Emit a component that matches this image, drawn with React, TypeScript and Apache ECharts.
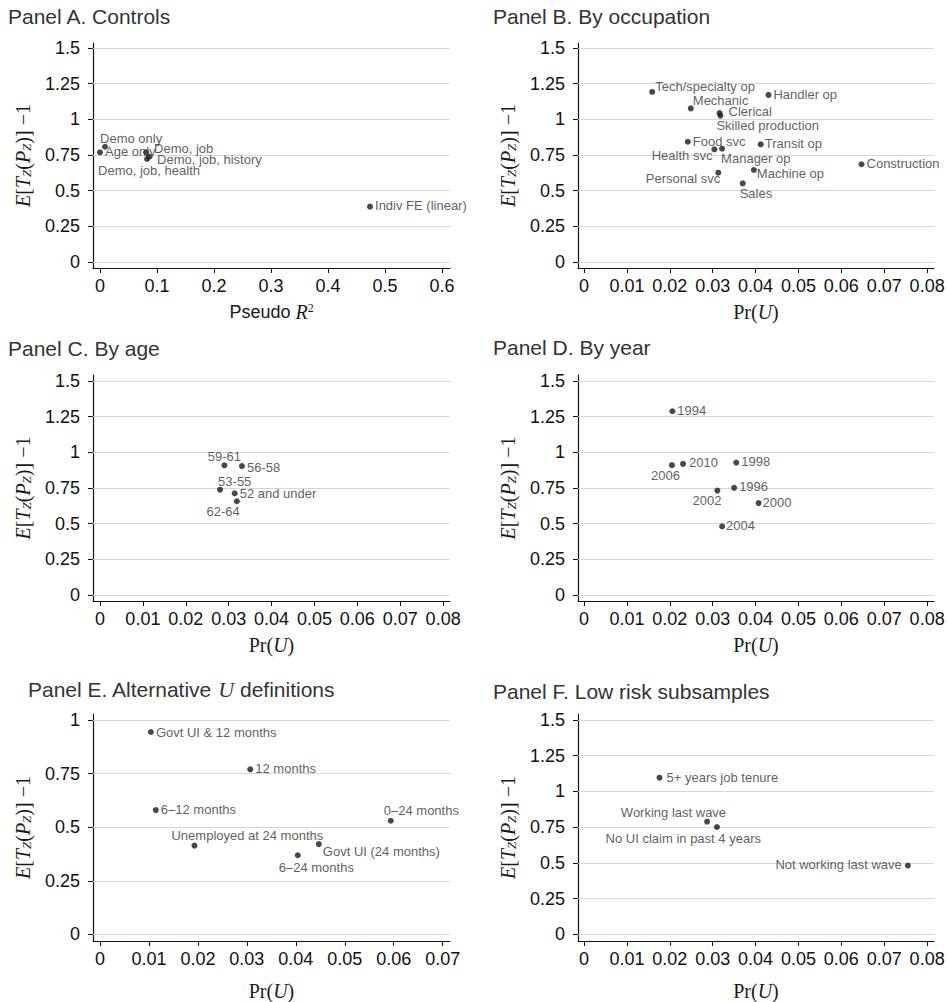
import React, { useEffect, useRef } from "react";
import * as echarts from "echarts";

const FONT = '"Liberation Sans", Arial, Helvetica, sans-serif';
const SERIF = '"Liberation Serif", "Times New Roman", serif';

// ---------- tick values ----------
const yTicks = [0, 0.25, 0.5, 0.75, 1, 1.25, 1.5];
const yTicksE = [0, 0.25, 0.5, 0.75, 1];
const xTicksA = [0, 0.1, 0.2, 0.3, 0.4, 0.5, 0.6];
const xTicksPr = [0, 0.01, 0.02, 0.03, 0.04, 0.05, 0.06, 0.07, 0.08];
const xTicksE = [0, 0.01, 0.02, 0.03, 0.04, 0.05, 0.06, 0.07];

// ---------- Panel A. Controls ----------
const namesA = ["Demo only", "Age only", "Demo, job", "Demo, job, history", "Demo, job, health", "Indiv FE (linear)"];
const xA = [0.0088, 0.0, 0.0807, 0.086, 0.0825, 0.4737];
const yA = [0.808, 0.769, 0.769, 0.738, 0.722, 0.388];

// ---------- Panel B. By occupation ----------
const namesB = ["Tech/specialty op", "Handler op", "Mechanic", "Clerical", "Skilled production", "Food svc", "Health svc", "Manager op", "Transit op", "Construction", "Personal svc", "Machine op", "Sales"];
const xB = [0.0159, 0.043, 0.0249, 0.0316, 0.0318, 0.0242, 0.0304, 0.0322, 0.0412, 0.0647, 0.0313, 0.0396, 0.037];
const yB = [1.192, 1.171, 1.077, 1.044, 1.026, 0.843, 0.79, 0.794, 0.825, 0.685, 0.626, 0.645, 0.551];

// ---------- Panel C. By age ----------
const namesC = ["59-61", "56-58", "53-55", "52 and under", "62-64"];
const xC = [0.029, 0.0331, 0.028, 0.0314, 0.0319];
const yC = [0.909, 0.904, 0.738, 0.713, 0.657];

// ---------- Panel D. By year ----------
const namesD = ["1994", "2006", "2010", "1998", "1996", "2002", "2000", "2004"];
const xD = [0.0206, 0.0205, 0.0231, 0.0355, 0.035, 0.0311, 0.0407, 0.0322];
const yD = [1.288, 0.91, 0.919, 0.928, 0.751, 0.732, 0.644, 0.481];

// ---------- Panel E. Alternative U definitions ----------
const namesE = ["Govt UI & 12 months", "12 months", "6\u201312 months", "0\u201324 months", "Unemployed at 24 months", "Govt UI (24 months)", "6\u201324 months"];
const xE = [0.0104, 0.0307, 0.0114, 0.0594, 0.0193, 0.0447, 0.0404];
const yE = [0.944, 0.77, 0.58, 0.53, 0.414, 0.421, 0.369];

// ---------- Panel F. Low risk subsamples ----------
const namesF = ["5+ years job tenure", "Working last wave", "No UI claim in past 4 years", "Not working last wave"];
const xF = [0.0176, 0.0287, 0.031, 0.0755];
const yF = [1.096, 0.788, 0.751, 0.481];

// ---------- marker label placement (align, dx, dy in px) ----------
type Place = [string, number, number];
const placeA: Place[] = [["left", -5, -8], ["left", 5, -1], ["left", 8, -4], ["left", 8, 3], ["center", 2, 12], ["left", 5, -1]];
const placeB: Place[] = [["left", 3, -5], ["left", 5, 0], ["left", 2, -8], ["left", 9, -2], ["left", -4, 10], ["left", 5, 0], ["right", -2, 6], ["left", -1, 10], ["left", 4, -1], ["left", 5, -1], ["right", 2, 6], ["left", 3, 4], ["left", -3, 10]];
const placeC: Place[] = [["center", 0, -9], ["left", 5, 1], ["left", -2, -8], ["left", 5, 0], ["right", 3, 10]];
const placeD: Place[] = [["left", 5, -1], ["right", 8, 10], ["left", 6, -1], ["left", 5, -1], ["left", 5, -1], ["right", 4, 10], ["left", 4, -1], ["left", 4, -1]];
const placeE: Place[] = [["left", 5, 0], ["left", 5, -1], ["left", 5, -1], ["left", -7, -10], ["left", -23, -10], ["left", 4, 7], ["left", -19, 12]];
const placeF: Place[] = [["left", 7, 0], ["right", 19, -9], ["right", 44, 11], ["right", -6, -1]];

const yName = "{i|E}{n|[}{i|T}{s|Z}{n|(}{i|P}{s|Z}{n|)] \u22121}";
const prName = "{n|Pr(}{i|U}{n|)}";
const pseudoName = "{a|Pseudo }{i|R}{sup|2}";

const nameRich = {
  i: { fontFamily: SERIF, fontStyle: "italic", fontSize: 20, color: "#1a1a1a" },
  n: { fontFamily: SERIF, fontSize: 20, color: "#1a1a1a" },
  s: { fontFamily: SERIF, fontStyle: "italic", fontSize: 13, color: "#1a1a1a", verticalAlign: "bottom" },
  a: { fontFamily: FONT, fontSize: 18, color: "#1a1a1a" },
  sup: { fontFamily: SERIF, fontSize: 12, color: "#1a1a1a", verticalAlign: "top" },
};

const panels = [
  { title: "Panel A. Controls", tl: 8, tt: 6, names: namesA, xs: xA, ys: yA, place: placeA, xTicks: xTicksA, yT: yTicks,
    grid: { left: 93, top: 43, width: 357, height: 225 }, xMin: -0.0123, xMax: 0.614, yMin: -0.042, yMax: 1.535, xName: pseudoName, xGap: 34 },
  { title: "Panel B. By occupation", tl: 493, tt: 6, names: namesB, xs: xB, ys: yB, place: placeB, xTicks: xTicksPr, yT: yTicks,
    grid: { left: 578, top: 43, width: 356, height: 225 }, xMin: -0.0014, xMax: 0.0816, yMin: -0.042, yMax: 1.535, xName: prName, xGap: 34 },
  { title: "Panel C. By age", tl: 8, tt: 338, names: namesC, xs: xC, ys: yC, place: placeC, xTicks: xTicksPr, yT: yTicks,
    grid: { left: 93, top: 375, width: 357, height: 226 }, xMin: -0.00163, xMax: 0.0816, yMin: -0.042, yMax: 1.542, xName: prName, xGap: 34 },
  { title: "Panel D. By year", tl: 493, tt: 337, names: namesD, xs: xD, ys: yD, place: placeD, xTicks: xTicksPr, yT: yTicks,
    grid: { left: 578, top: 375, width: 356, height: 226 }, xMin: -0.0014, xMax: 0.0816, yMin: -0.042, yMax: 1.542, xName: prName, xGap: 34 },
  { title: "{a|Panel E. Alternative }{u|U}{a| definitions}", tl: 28, tt: 678, names: namesE, xs: xE, ys: yE, place: placeE, xTicks: xTicksE, yT: yTicksE,
    grid: { left: 93, top: 714, width: 357, height: 227 }, xMin: -0.00143, xMax: 0.0715, yMin: -0.031, yMax: 1.028, xName: prName, xGap: 40 },
  { title: "Panel F. Low risk subsamples", tl: 493, tt: 681, names: namesF, xs: xF, ys: yF, place: placeF, xTicks: xTicksPr, yT: yTicks,
    grid: { left: 578, top: 714, width: 356, height: 227 }, xMin: -0.0014, xMax: 0.0816, yMin: -0.047, yMax: 1.542, xName: prName, xGap: 40 },
];

const fmt = (v: number) => String(parseFloat(Number(v).toFixed(4)));

function buildOption() {
  const axisLineStyle = { color: "#111", width: 1.2 };
  return {
    animation: false,
    backgroundColor: "#fff",
    title: panels.map((p) => ({
      text: p.title,
      left: p.tl,
      top: p.tt,
      padding: 0,
      textStyle: {
        fontFamily: FONT, fontSize: 21, fontWeight: "normal", color: "#333",
        rich: {
          a: { fontFamily: FONT, fontSize: 21, color: "#333" },
          u: { fontFamily: SERIF, fontStyle: "italic", fontSize: 22, color: "#333" },
        },
      },
    })),
    grid: panels.map((p) => ({ ...p.grid, containLabel: false, outerBoundsMode: "none" })),
    xAxis: panels.map((p, i) => ({
      type: "value",
      gridIndex: i,
      min: p.xMin,
      max: p.xMax,
      name: p.xName,
      nameLocation: "middle",
      nameGap: p.xGap,
      nameTextStyle: { rich: nameRich },
      axisLine: { show: true, onZero: false, lineStyle: axisLineStyle },
      axisTick: { show: true, length: 5, customValues: p.xTicks, lineStyle: { color: "#111", width: 1 } },
      axisLabel: { customValues: p.xTicks, formatter: fmt, fontFamily: FONT, fontSize: 18, color: "#111", margin: 9 },
      splitLine: { show: false },
    })),
    yAxis: panels.map((p, i) => ({
      type: "value",
      gridIndex: i,
      min: p.yMin,
      max: p.yMax,
      name: yName,
      nameLocation: "middle",
      nameRotate: 90,
      nameGap: 60,
      nameTextStyle: { rich: nameRich },
      axisLine: { show: true, onZero: false, lineStyle: axisLineStyle },
      axisTick: { show: true, length: 5, customValues: p.yT, lineStyle: { color: "#111", width: 1 } },
      axisLabel: { customValues: p.yT, formatter: fmt, fontFamily: FONT, fontSize: 18, color: "#111", margin: 13 },
      splitLine: { show: false },
    })),
    series: panels.map((p, i) => ({
      type: "scatter",
      xAxisIndex: i,
      yAxisIndex: i,
      symbol: "circle",
      symbolSize: 6,
      z: 3,
      itemStyle: { color: "#1a1a1a" },
      label: { show: true, formatter: "{b}", fontFamily: FONT, fontSize: 13, color: "#333", textBorderWidth: 0 },
      emphasis: { disabled: true },
      data: p.names.map((n, k) => ({
        name: n,
        value: [p.xs[k], p.ys[k]],
        label: {
          position: "inside",
          align: p.place[k][0],
          verticalAlign: "middle",
          offset: [p.place[k][1], p.place[k][2]],
        },
      })),
      markLine: {
        silent: true,
        symbol: "none",
        z: 1,
        label: { show: false },
        lineStyle: { color: "#d6d6d6", width: 1.2, type: "solid" },
        emphasis: { disabled: true },
        data: p.yT.map((v) => ({ yAxis: v })),
      },
    })),
  };
}

export default function App() {
  const ref = useRef<HTMLDivElement>(null);
  useEffect(() => {
    if (!ref.current) return;
    const chart = echarts.init(ref.current, null, { renderer: "svg" });
    chart.setOption(buildOption() as any);
    return () => chart.dispose();
  }, []);
  return (
    <div
      ref={ref}
      style={{ position: "absolute", left: 0, top: 0, width: 948, height: 1002, background: "#fff" }}
    />
  );
}
